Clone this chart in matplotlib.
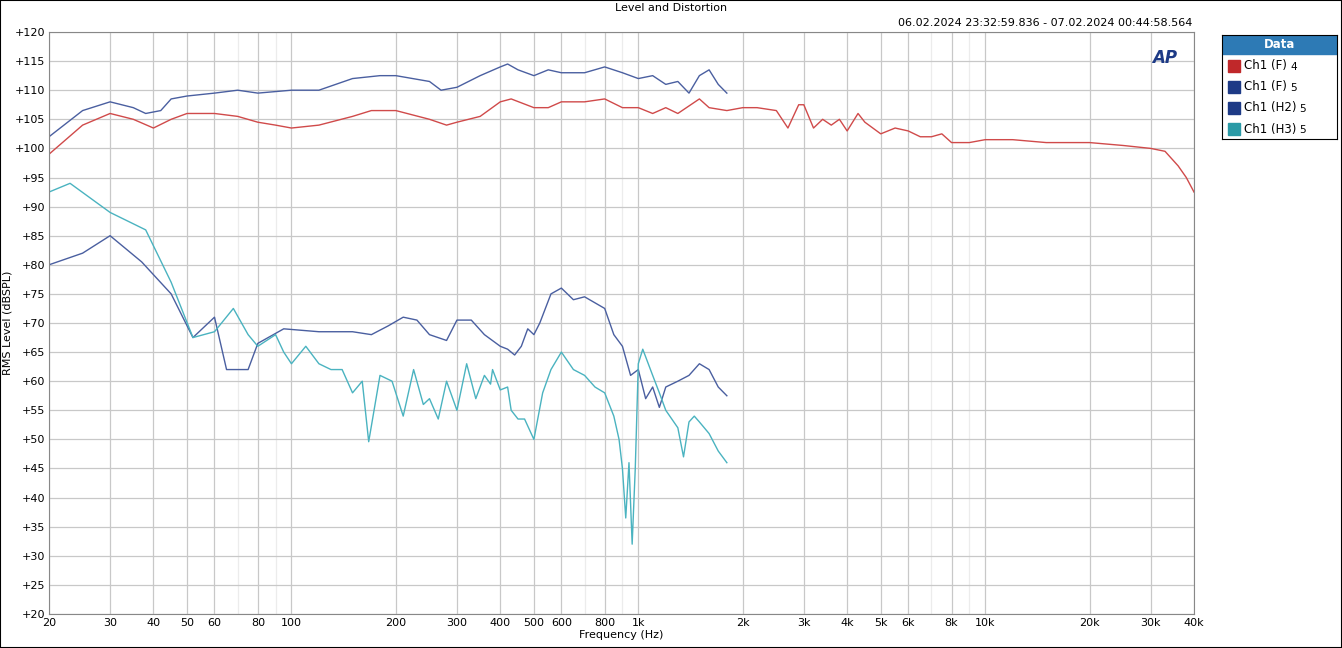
import matplotlib
matplotlib.use("Agg")
import matplotlib.pyplot as plt
from matplotlib.patches import Rectangle
from matplotlib.ticker import FixedLocator, NullFormatter

# ---- data ----
f_red = [20, 25, 30, 35, 40, 45, 50, 60, 70, 80, 90, 100, 120, 150, 170, 200, 250, 280, 300,
         350, 400, 430, 500, 550, 600, 700, 800, 900, 1000, 1100, 1200, 1300, 1500, 1600, 1800,
         2000, 2200, 2500, 2700, 2900, 3000, 3200, 3400, 3600, 3800, 4000, 4300, 4500, 5000,
         5500, 6000, 6500, 7000, 7500, 8000, 9000, 10000, 12000, 15000, 20000, 25000, 30000,
         33000, 36000, 38000, 40000]
l_red = [99, 104, 106, 105, 103.5, 105, 106, 106, 105.5, 104.5, 104, 103.5, 104, 105.5, 106.5,
         106.5, 105, 104, 104.5, 105.5, 108, 108.5, 107, 107, 108, 108, 108.5, 107, 107, 106,
         107, 106, 108.5, 107, 106.5, 107, 107, 106.5, 103.5, 107.5, 107.5, 103.5, 105, 104,
         105, 103, 106, 104.5, 102.5, 103.5, 103, 102, 102, 102.5, 101, 101, 101.5, 101.5, 101,
         101, 100.5, 100, 99.5, 97, 95, 92.5]

f_f5 = [20, 25, 30, 35, 38, 42, 45, 50, 60, 70, 80, 100, 120, 150, 180, 200, 250, 270, 300,
        350, 400, 420, 450, 500, 550, 600, 700, 800, 900, 1000, 1100, 1200, 1300, 1400, 1500,
        1600, 1700, 1800]
l_f5 = [102, 106.5, 108, 107, 106, 106.5, 108.5, 109, 109.5, 110, 109.5, 110, 110, 112, 112.5,
        112.5, 111.5, 110, 110.5, 112.5, 114, 114.5, 113.5, 112.5, 113.5, 113, 113, 114, 113, 112,
        112.5, 111, 111.5, 109.5, 112.5, 113.5, 111, 109.5]

f_h2 = [20, 25, 30, 37, 45, 52, 60, 65, 75, 80, 95, 120, 150, 170, 190, 210, 230, 250, 280,
        300, 330, 360, 400, 420, 440, 460, 480, 500, 520, 560, 600, 650, 700, 800, 850, 900, 950,
        1000, 1050, 1100, 1150, 1200, 1300, 1400, 1500, 1600, 1700, 1800]
l_h2 = [80, 82, 85, 80.5, 75, 67.5, 71, 62, 62, 66.5, 69, 68.5, 68.5, 68, 69.5, 71, 70.5, 68,
        67, 70.5, 70.5, 68, 66, 65.5, 64.5, 66, 69, 68, 70, 75, 76, 74, 74.5, 72.5, 68, 66, 61,
        62, 57, 59, 55.5, 59, 60, 61, 63, 62, 59, 57.5]

f_h3 = [20, 23, 30, 38, 45, 52, 60, 68, 75, 80, 90, 95, 100, 110, 120, 130, 140, 150, 160, 167,
        180, 195, 210, 225, 240, 250, 265, 280, 300, 320, 340, 360, 375, 380, 400, 420, 430, 450,
        470, 500, 530, 560, 600, 650, 700, 750, 800, 850, 880, 900, 920, 940, 960, 980, 1000,
        1030, 1100, 1150, 1200, 1300, 1350, 1400, 1450, 1500, 1600, 1700, 1800]
l_h3 = [92.5, 94, 89, 86, 77, 67.5, 68.5, 72.5, 68, 66, 68, 65, 63, 66, 63, 62, 62, 58, 60, 49.6,
        61, 60, 54, 62, 56, 57, 53.5, 60, 55, 63, 57, 61, 59.5, 62, 58.5, 59, 55, 53.5, 53.5, 50,
        58, 62, 65, 62, 61, 59, 58, 54, 50, 45, 36.5, 46, 32, 45, 63, 65.5, 61, 58, 55, 52, 47,
        53, 54, 53, 51, 48, 46]

major_x = [20, 30, 40, 50, 60, 80, 100, 200, 300, 400, 500, 600, 800, 1000, 2000, 3000, 4000,
           5000, 6000, 8000, 10000, 20000, 30000, 40000]
major_lbl = ["20", "30", "40", "50", "60", "80", "100", "200", "300", "400", "500", "600", "800",
             "1k", "2k", "3k", "4k", "5k", "6k", "8k", "10k", "20k", "30k", "40k"]
minor_x = [70, 90, 700, 900, 7000, 9000]

legend_names = ["Ch1 (F)", "Ch1 (F)", "Ch1 (H2)", "Ch1 (H3)"]
legend_nums = ["4", "5", "5", "5"]
colors = ["#c0282a", "#1d3a86", "#1d3a86", "#2a9aa6"]

W, H = 1342, 648
fig = plt.figure(figsize=(W / 100, H / 100), dpi=100)
fig.patches.append(Rectangle((0, 0), 1, 1, transform=fig.transFigure, fill=False,
                             ec="black", lw=1.5))

ax = fig.add_axes([49 / W, 1 - 614 / H, (1194 - 49) / W, (614 - 32) / H])
ax.set_xscale("log")
ax.set_xlim(20, 40000)
ax.set_ylim(20, 120)
ax.plot(f_red, l_red, color="#d04a4a", lw=1)
ax.plot(f_f5, l_f5, color="#4a5fa0", lw=1)
ax.plot(f_h2, l_h2, color="#4a5fa0", lw=1)
ax.plot(f_h3, l_h3, color="#4ab3c0", lw=1)

ax.xaxis.set_major_locator(FixedLocator(major_x))
ax.set_xticklabels(major_lbl)
ax.xaxis.set_minor_locator(FixedLocator(minor_x))
ax.xaxis.set_minor_formatter(NullFormatter())
yt = list(range(20, 121, 5))
ax.set_yticks(yt)
ax.set_yticklabels([f"+{v}" for v in yt])
ax.grid(True, which="major", color="#c8c8c8", lw=0.9)
ax.grid(True, which="minor", axis="x", color="#ececec", lw=0.9)
ax.set_axisbelow(True)
ax.tick_params(which="both", labelsize=8, length=0, pad=3)
for s in ax.spines.values():
    s.set_color("#888888")
ax.set_xlabel("Frequency (Hz)", fontsize=8, labelpad=1)
ax.set_ylabel("RMS Level (dBSPL)", fontsize=8)
ax.yaxis.set_label_coords(-36 / (1194 - 49), 0.5)

fig.text(0.5, 1 - 8 / H, "Level and Distortion", ha="center", va="center", fontsize=8)
fig.text(1192 / W, 1 - 23 / H, "06.02.2024 23:32:59.836 - 07.02.2024 00:44:58.564",
         ha="right", va="center", fontsize=8)
ax.text(0.985, 0.955, "AP", transform=ax.transAxes, ha="right", va="center",
        fontsize=12, fontweight="bold", style="italic", color="#1d3a86")

# legend box
lg = fig.add_axes([1222 / W, 1 - 139 / H, (1337 - 1222) / W, (139 - 35) / H])
lg.set_xlim(0, 115)
lg.set_ylim(104, 0)
lg.set_xticks([])
lg.set_yticks([])
lg.add_patch(Rectangle((0, 0), 115, 19, color="#2d7ab5"))
lg.text(57.5, 10, "Data", ha="center", va="center", color="white", fontsize=8.5,
        fontweight="bold")
for i, (n, k, c) in enumerate(zip(legend_names, legend_nums, colors)):
    y = 31 + i * 21
    lg.add_patch(Rectangle((6, y - 6), 12, 12, color=c))
    lg.text(22, y, n, va="center", fontsize=8.5)
    lg.text(22 + 7.2 * len(n) - (2 if "H" in n else 4), y + 1, k, va="center", fontsize=7.5)

fig.savefig("out.png", dpi=100)
